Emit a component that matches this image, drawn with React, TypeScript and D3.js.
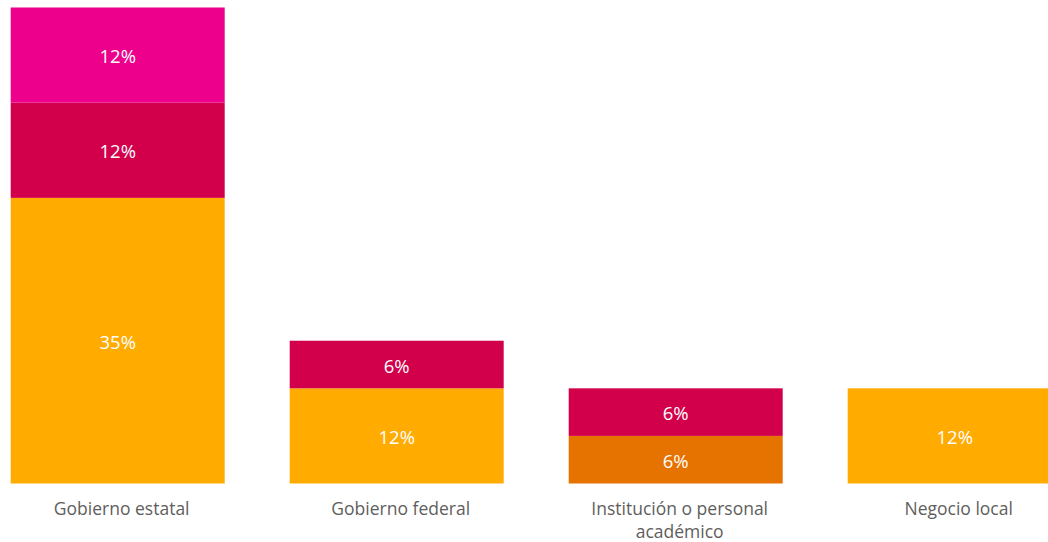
import React from "react";
import * as d3 from "d3";

const categories = ["Gobierno estatal", "Gobierno federal", "Institución o personal académico", "Negocio local"];
const categoryLines = [["Gobierno estatal"], ["Gobierno federal"], ["Institución o personal", "académico"], ["Negocio local"]];
const seriesNames = ["Serie 1", "Serie 2", "Serie 3", "Serie 4"];
const seriesColors = ["#FFAB00", "#E67200", "#D2004B", "#EC008C"];
const serie1 = [35.29, 11.76, 0, 11.76];
const serie2 = [0, 0, 5.88, 0];
const serie3 = [11.76, 5.88, 5.88, 0];
const serie4 = [11.76, 0, 0, 0];

const W = 1048;
const H = 542;
const FONT = "'Segoe UI', 'Open Sans', sans-serif";

export default function App() {
  const seriesValues = [serie1, serie2, serie3, serie4];
  const rows = categories.map((c, i) => {
    const r: any = { cat: c };
    seriesNames.forEach((s, j) => (r[s] = seriesValues[j][i]));
    return r;
  });
  const stack = d3.stack<any>().keys(seriesNames)(rows);
  const maxTotal = d3.max(rows, (r) => d3.sum(seriesNames, (s) => r[s])) as number;

  const x = d3.scaleBand<string>().domain(categories).range([-21.8, 1094.2]).paddingInner(0.233).paddingOuter(0.1165);
  const y = d3.scaleLinear().domain([0, maxTotal]).range([483.5, 7.5]);

  return (
    <svg width={W} height={H} style={{ position: "absolute", left: 0, top: 0, fontFamily: FONT }}>
      <rect width={W} height={H} fill="#ffffff" />
      {stack.map((layer, si) => (
        <g key={layer.key}>
          {layer.map((d, ci) => {
            const v = d[1] - d[0];
            if (v <= 0) return null;
            const x0 = x(categories[ci]) as number;
            const yTop = y(d[1]);
            const yBot = y(d[0]);
            return (
              <g key={ci}>
                <rect x={x0} y={yTop} width={x.bandwidth()} height={yBot - yTop} fill={seriesColors[si]} />
                <text
                  x={x0 + x.bandwidth() / 2}
                  y={(yTop + yBot) / 2 + 1.5}
                  dy="0.36em"
                  textAnchor="middle"
                  fill="#ffffff"
                  fontSize={18.5}
                >
                  {Math.round(v)}%
                </text>
              </g>
            );
          })}
        </g>
      ))}
      {categories.map((c, ci) => (
        <text key={c} x={(x(c) as number) + x.bandwidth() / 2 + 4} y={515} textAnchor="middle" fill="#605E5C" fontSize={17.5}>
          {categoryLines[ci].map((ln, li) => (
            <tspan key={li} x={(x(c) as number) + x.bandwidth() / 2 + 4} dy={li === 0 ? 0 : 23}>
              {ln}
            </tspan>
          ))}
        </text>
      ))}
    </svg>
  );
}
